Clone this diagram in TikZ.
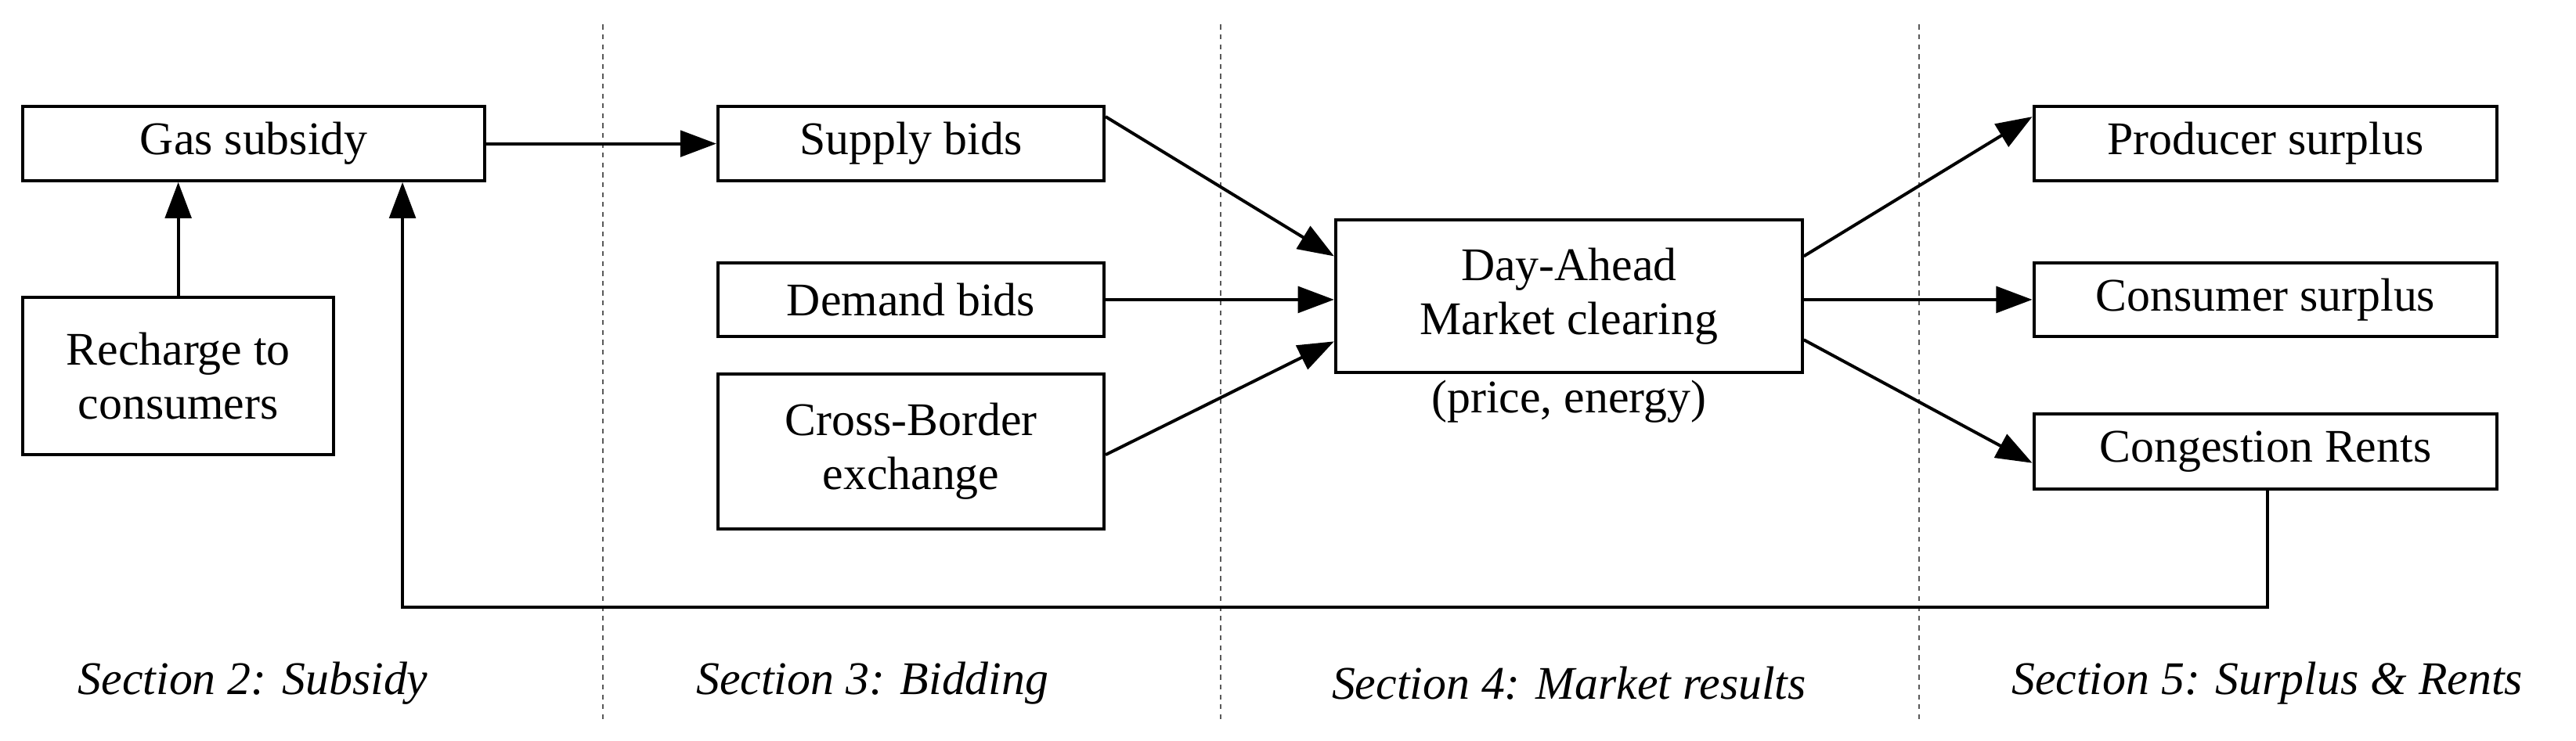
\documentclass[tikz,border=0pt]{standalone}
\usepackage{fontspec}
\setmainfont{Liberation Serif}
\usetikzlibrary{arrows.meta}
\begin{document}
\begin{tikzpicture}[x=1pt,y=-1pt,
 box/.style={draw,line width=1.9pt,inner sep=0pt,align=center,font=\fontsize{28.5}{33}\selectfont},
 arr/.style={line width=1.9pt,-{Triangle[length=22,width=16]}},
 sec/.style={font=\fontsize{28.5}{33}\selectfont\itshape},
 sep/.style={dashed,line width=0.8pt,gray!70!black}]
\useasboundingbox (0,0) rectangle (1568,451);
\node[box,minimum width=281,minimum height=45] (gas) at (154.5,87.5) {Gas subsidy};
\node[box,minimum width=189,minimum height=96] (rec) at (108.5,229) {Recharge to\\consumers};
\node[box,minimum width=235,minimum height=45] (sup) at (554.5,87.5) {Supply bids};
\node[box,minimum width=235,minimum height=45] (dem) at (554.5,182.5) {Demand bids};
\node[box,minimum width=235,minimum height=94] (cb) at (554.5,275) {Cross-Border\\exchange};
\node[box,minimum width=284,minimum height=93] (da) at (955,180.5) {Day-Ahead\\Market clearing};
\node[font=\fontsize{28.5}{33}\selectfont,anchor=north] (pe) at (955,228) {(price, energy)};
\node[box,minimum width=282,minimum height=45] (ps) at (1379,87.5) {Producer surplus};
\node[box,minimum width=282,minimum height=45] (cs) at (1379,182.5) {Consumer surplus};
\node[box,minimum width=282,minimum height=46] (cr) at (1379,275) {Congestion Rents};
\foreach \x in {367,743,1168} \draw[sep] (\x,15) -- (\x,440);
\node[sec] (s2) at (154,416) {Section 2: Subsidy};
\node[sec] (s3) at (531,416) {Section 3: Bidding};
\node[sec] (s4) at (955,416) {Section 4: Market results};
\node[sec] (s5) at (1380,416) {Section 5: Surplus \& Rents};
\draw[arr] (gas) -- (sup);
\draw[arr] (rec) -- (gas.south -| rec);
\draw[arr] ([yshift=-7]sup.north east) -- ([yshift=-23]da.north west);
\draw[arr] (dem.east) -- (dem.east -| da.west);
\draw[arr] ([yshift=-2]cb.east) -- ([yshift=20]da.south west);
\draw[arr] ([yshift=-23]da.north east) -- ([yshift=-7]ps.north west);
\draw[arr] (da.east |- cs.east) -- (cs.west);
\draw[arr] ([yshift=21]da.south east) -- ([yshift=-7]cr.west);
\coordinate (c1) at (1380,370);
\coordinate (c2) at (245,370);
\draw[arr] (cr.south -| c1) -- (c1) -- (c2) -- (c2 |- gas.south);
\end{tikzpicture}
\end{document}
